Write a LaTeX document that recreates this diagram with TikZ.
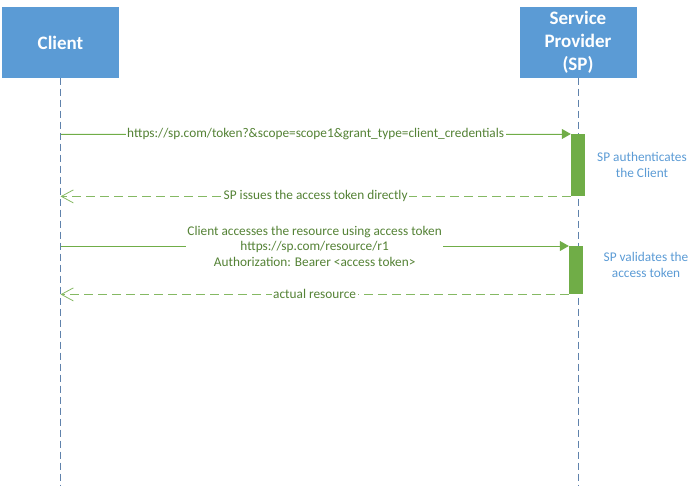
\documentclass[tikz,border=0pt]{standalone}
\usepackage{fontspec}
\setmainfont{Carlito}
\usetikzlibrary{arrows.meta}

\definecolor{boxBlue}{HTML}{5B9BD5}
\definecolor{lifeBlue}{HTML}{5F82AC}
\definecolor{lineGreen}{HTML}{70AD47}
\definecolor{textGreen}{HTML}{548235}

\begin{document}
\begin{tikzpicture}[x = 1pt, y = -1pt, font=\fontsize{13.3}{15.5}\selectfont]
\tikzstyle{actorStyle} = [draw = boxBlue, fill = boxBlue, text = white, font = \fontsize{19}{23}\selectfont\bfseries, minimum width = 116pt, minimum height = 70pt, inner sep = 0pt, align = center]
\tikzstyle{lifeStyle} = [draw = lifeBlue, line width = 0.7pt, dash pattern = on 7pt off 4pt]
\tikzstyle{barStyle} = [draw = none, fill = lineGreen, minimum width = 14pt, inner sep = 0pt, anchor = north]
\tikzstyle{msgStyle} = [draw = lineGreen, line width = 0.8pt, -{Triangle[length = 9pt, width = 10pt]}, fill = lineGreen]
\tikzstyle{replyStyle} = [draw = lineGreen!85, line width = 0.8pt, dash pattern = on 9pt off 5pt, -{Straight Barb[length = 12pt, width = 13pt]}]
\tikzstyle{labelStyle} = [fill = white, text = textGreen, inner sep = 1.5pt, align = center]
\tikzstyle{noteStyle} = [text = boxBlue, align = center, inner sep = 0pt]
\useasboundingbox (0,0) rectangle (700,486);
% actors
\node[actorStyle] (client) at (60.5, 42.5) {Client};
\node[actorStyle] (sp) at (578, 42.5) {Service\\Provider\\(SP)};
\coordinate (clientEnd) at (60.5, 486);
\coordinate (spEnd) at (578, 486);
\draw[lifeStyle] (client.south) -- (clientEnd);
\draw[lifeStyle] (sp.south) -- (spEnd);
% activation bars
\node[barStyle, minimum height = 62pt] (authBar) at (578, 134) {};
\node[barStyle, minimum height = 48pt] (checkBar) at (576, 246) {};
\coordinate (c1) at (client.south |- authBar.north);
\coordinate (c2) at (client.south |- authBar.south);
\coordinate (c3) at (client.south |- checkBar.north);
\coordinate (c4) at (client.south |- checkBar.south);
% messages
\draw[msgStyle] (c1) -- (authBar.north west) node[midway, labelStyle] {https://sp.com/token?\&scope=scope1\&grant\_type=client\_credentials};
\draw[replyStyle] (authBar.south west) -- (c2) node[midway, labelStyle] {SP issues the access token directly};
\draw[msgStyle] (c3) -- (checkBar.north west) node[midway, labelStyle] {Client accesses the resource using access token\\https://sp.com/resource/r1\\Authorization: Bearer <access token>};
\draw[replyStyle] (checkBar.south west) -- (c4) node[midway, labelStyle] {actual resource};
% notes
\node[noteStyle] (authNote) at (642, 165) {SP authenticates\\the Client};
\node[noteStyle] (checkNote) at (646, 265) {SP validates the\\access token};
\end{tikzpicture}
\end{document}
